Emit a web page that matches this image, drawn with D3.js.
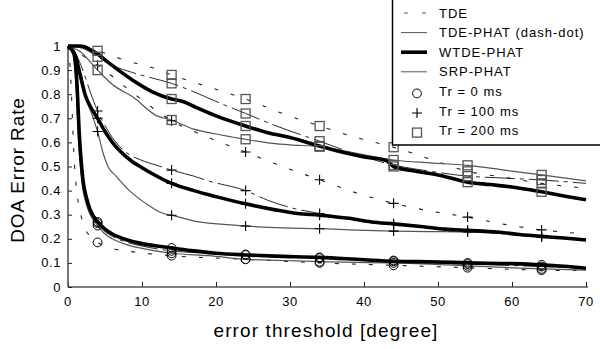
<!DOCTYPE html>
<html>
<head>
<meta charset="utf-8">
<script src="https://cdn.jsdelivr.net/npm/d3@7"></script>
<style>
  body { margin: 0; background: #fff; }
  svg { font-family: "Liberation Sans", Arial, sans-serif; }
</style>
</head>
<body>
<div id="chart"></div>
<script>
// error threshold (degree) vs DOA error rate
const xTicks = [0, 10, 20, 30, 40, 50, 60, 70];
const yTicks = [0, 0.1, 0.2, 0.3, 0.4, 0.5, 0.6, 0.7, 0.8, 0.9, 1];
const markerXs = [4, 14, 24, 34, 44, 54, 64];

// Tr = 0 ms
const tde0 = [[0,1],[0.4,0.85],[0.6,0.7],[0.8,0.55],[1.1,0.42],[1.6,0.32],[2.2,0.25],[3,0.21],[4,0.185],[6,0.16],[9,0.145],[14,0.13],[24,0.115],[34,0.1],[44,0.09],[54,0.08],[64,0.07],[70,0.068]];
const tdephat0 = [[0,1],[0.7,0.97],[1.1,0.85],[1.4,0.65],[1.9,0.45],[2.5,0.35],[3,0.31],[4,0.265],[5,0.23],[6,0.21],[8,0.185],[10,0.17],[14,0.15],[19,0.14],[24,0.135],[29,0.125],[34,0.12],[39,0.115],[44,0.11],[49,0.1],[54,0.095],[59,0.09],[64,0.085],[70,0.08]];
const wtde0 = [[0,1],[0.8,0.97],[1.2,0.85],[1.5,0.65],[2,0.45],[2.5,0.37],[3,0.32],[4,0.27],[5,0.24],[6,0.22],[8,0.195],[10,0.18],[12,0.17],[14,0.162],[17,0.15],[20,0.14],[24,0.133],[28,0.128],[34,0.123],[40,0.113],[44,0.107],[50,0.104],[54,0.1],[60,0.097],[64,0.092],[67,0.086],[70,0.078]];
const srp0 = [[0,1],[0.7,0.96],[1.1,0.82],[1.4,0.62],[1.9,0.43],[2.5,0.34],[3,0.3],[4,0.255],[5,0.22],[6,0.2],[8,0.175],[10,0.16],[14,0.14],[19,0.13],[24,0.115],[29,0.11],[34,0.105],[44,0.1],[54,0.088],[64,0.075],[70,0.07]];

// Tr = 100 ms
const tde100 = [[0,1],[1,0.985],[2,0.96],[4,0.92],[9,0.8],[14,0.69],[19,0.62],[24,0.56],[29,0.5],[34,0.445],[39,0.39],[44,0.347],[49,0.315],[54,0.29],[59,0.26],[64,0.237],[70,0.22]];
const tdephat100 = [[0,1],[1,0.97],[2,0.9],[3,0.81],[4,0.73],[5,0.67],[6,0.62],[7.4,0.57],[10,0.525],[12,0.505],[14,0.485],[17,0.46],[19,0.44],[24,0.4],[27,0.36],[30,0.33],[34,0.305],[39,0.28],[44,0.26],[49,0.245],[54,0.235],[59,0.22],[64,0.21],[70,0.2]];
const wtde100 = [[0,1],[1,0.96],[1.5,0.9],[2.4,0.79],[3,0.75],[4,0.7],[5,0.645],[6,0.6],[7,0.565],[8.7,0.52],[10,0.495],[11.4,0.47],[14,0.43],[17,0.4],[20,0.375],[24,0.345],[28,0.32],[31,0.305],[34,0.298],[38,0.285],[41,0.27],[44,0.262],[48,0.25],[51,0.24],[54,0.235],[58,0.228],[61,0.218],[64,0.21],[67,0.203],[70,0.195]];
const srp100 = [[0,1],[1,0.95],[2,0.82],[3.3,0.71],[4,0.645],[4.7,0.56],[5.4,0.5],[6.5,0.46],[8.3,0.4],[10.5,0.347],[12.8,0.306],[14,0.298],[17.7,0.27],[21,0.26],[24,0.253],[29,0.245],[34,0.242],[39,0.236],[44,0.232],[49,0.23],[54,0.228],[59,0.222],[64,0.208],[70,0.198]];

// Tr = 200 ms
const tde200 = [[0,1],[2,0.995],[4,0.98],[8.3,0.935],[11,0.914],[14,0.88],[19,0.83],[24,0.78],[29,0.72],[34,0.668],[39,0.62],[44,0.58],[49,0.53],[54,0.48],[59,0.455],[64,0.43],[70,0.41]];
const tdephat200 = [[0,1],[2,0.99],[4,0.955],[6,0.92],[8.7,0.89],[11,0.87],[14,0.845],[17,0.81],[20,0.77],[24,0.72],[28,0.67],[34,0.605],[39,0.55],[44,0.506],[49,0.48],[54,0.46],[59,0.452],[64,0.444],[70,0.43]];
const wtde200 = [[0,1],[1.5,1],[2.4,0.995],[3,0.985],[4.2,0.963],[5.3,0.935],[6.5,0.907],[8.7,0.859],[11.4,0.81],[14,0.78],[15.5,0.77],[17.3,0.745],[20,0.71],[24,0.668],[27,0.64],[30,0.62],[34,0.585],[37,0.56],[40,0.54],[43,0.525],[44,0.5],[47,0.48],[50,0.465],[54,0.435],[57,0.425],[60,0.415],[64,0.395],[67,0.378],[70,0.362]];
const srp200 = [[0,1],[1.5,0.98],[4,0.9],[6,0.84],[8.7,0.79],[12,0.71],[14,0.693],[17,0.655],[20,0.635],[24,0.613],[27,0.598],[30,0.59],[34,0.582],[39,0.555],[44,0.527],[49,0.515],[54,0.505],[59,0.485],[64,0.465],[70,0.44]];

const methods = ["TDE", "TDE-PHAT (dash-dot)", "WTDE-PHAT", "SRP-PHAT"];
const reverbLabels = ["Tr = 0 ms", "Tr = 100 ms", "Tr = 200 ms"];

const lineStyles = {
    "TDE": {stroke: "#222", width: 1.1, dash: "4,13"},
    "TDE-PHAT (dash-dot)": {stroke: "#111", width: 0.9, dash: "30,5,4,5"},
    "WTDE-PHAT": {stroke: "#000", width: 3.6, dash: null},
    "SRP-PHAT": {stroke: "#555", width: 1.2, dash: null}
};

const series = [
    {method: "TDE", tr: 0, data: tde0},
    {method: "TDE-PHAT (dash-dot)", tr: 0, data: tdephat0},
    {method: "SRP-PHAT", tr: 0, data: srp0},
    {method: "WTDE-PHAT", tr: 0, data: wtde0},
    {method: "TDE", tr: 1, data: tde100},
    {method: "TDE-PHAT (dash-dot)", tr: 1, data: tdephat100},
    {method: "SRP-PHAT", tr: 1, data: srp100},
    {method: "WTDE-PHAT", tr: 1, data: wtde100},
    {method: "TDE", tr: 2, data: tde200},
    {method: "TDE-PHAT (dash-dot)", tr: 2, data: tdephat200},
    {method: "SRP-PHAT", tr: 2, data: srp200},
    {method: "WTDE-PHAT", tr: 2, data: wtde200}
];

const W = 600, H = 349;
const PLOT = {left: 68, right: 586, top: 46, bottom: 287};

const svg = d3.select("#chart").append("svg")
    .attr("width", W)
    .attr("height", H);

const x = d3.scaleLinear().domain([0, 70]).range([PLOT.left, PLOT.right]);
const y = d3.scaleLinear().domain([0, 1]).range([PLOT.bottom, PLOT.top]);

// axes
const xAxis = svg.append("g")
    .attr("id", "X Axis")
    .attr("transform", "translate(0," + PLOT.bottom + ")")
    .call(d3.axisTop(x).tickValues(xTicks).tickSize(5).tickFormat(""));
const yAxis = svg.append("g")
    .attr("id", "Y Axis")
    .attr("transform", "translate(" + PLOT.left + ",0)")
    .call(d3.axisRight(y).tickValues(yTicks).tickSize(4).tickFormat(""));
[xAxis, yAxis].forEach(a => {
    a.select(".domain").attr("stroke", "#555").attr("stroke-width", 1.6);
    a.selectAll(".tick line").attr("stroke", "#222");
});
xAxis.select(".domain").attr("d", `M${PLOT.left},0H${PLOT.right + 2}`);
yAxis.select(".domain").attr("d", `M0,${PLOT.bottom}V${PLOT.top}`);

svg.append("g").selectAll("text")
    .data(xTicks)
    .enter().append("text")
    .attr("x", d => x(d))
    .attr("y", PLOT.bottom + 14)
    .attr("dy", "0.35em")
    .attr("text-anchor", "middle")
    .attr("font-size", 13)
    .attr("letter-spacing", 0.6)
    .attr("fill", "#000")
    .text(d => d);

svg.append("g").selectAll("text")
    .data(yTicks)
    .enter().append("text")
    .attr("x", PLOT.left - 7)
    .attr("y", d => y(d))
    .attr("dy", "0.35em")
    .attr("text-anchor", "end")
    .attr("font-size", 13)
    .attr("letter-spacing", 0.6)
    .attr("fill", "#000")
    .text(d => d);

svg.append("text")
    .attr("transform", "translate(24,170) rotate(-90)")
    .attr("text-anchor", "middle")
    .attr("font-size", 19)
    .attr("letter-spacing", 0.9)
    .text("DOA Error Rate");

svg.append("text")
    .attr("x", 326)
    .attr("y", 337)
    .attr("text-anchor", "middle")
    .attr("font-size", 19)
    .attr("letter-spacing", 1.1)
    .text("error threshold [degree]");

// curves
const line = d3.line()
    .x(d => x(d[0]))
    .y(d => y(d[1]))
    .curve(d3.curveMonotoneX);

const curves = svg.append("g").attr("id", "curves");
series.forEach((s, i) => {
    const st = lineStyles[s.method];
    curves.append("path")
        .datum(s.data)
        .attr("id", `Line ${i + 1}`)
        .attr("fill", "none")
        .attr("stroke", st.stroke)
        .attr("stroke-width", st.width)
        .attr("stroke-linejoin", "round")
        .style("stroke-dasharray", st.dash)
        .attr("d", line);
});

// markers
function drawMarker(g, tr, cx, cy) {
    if (tr === 0) {
        g.append("circle").attr("cx", cx).attr("cy", cy).attr("r", 4.4)
            .attr("fill", "none").attr("stroke", "#000").attr("stroke-width", 1);
    } else if (tr === 1) {
        g.append("path").attr("d", `M${cx - 5},${cy}H${cx + 5}M${cx},${cy - 5}V${cy + 5}`)
            .attr("stroke", "#000").attr("stroke-width", 1.1);
    } else {
        g.append("rect").attr("x", cx - 4.5).attr("y", cy - 4.5).attr("width", 9).attr("height", 9)
            .attr("fill", "none").attr("stroke", "#555").attr("stroke-width", 1.3);
    }
}

const markers = svg.append("g").attr("id", "markers");
series.forEach(s => {
    s.data.filter(d => markerXs.includes(d[0])).forEach(d => {
        drawMarker(markers, s.tr, x(d[0]), y(d[1]));
    });
});

// legend
const legend = svg.append("g").attr("id", "legend");
legend.append("rect")
    .attr("x", 392.5).attr("y", -1).attr("width", 210).attr("height", 146)
    .attr("fill", "#fff").attr("stroke", "#000").attr("stroke-width", 1.5);

const rowY = i => 13 + i * 19.6;
methods.forEach((m, i) => {
    legend.append("line")
        .attr("x1", m === "TDE" ? 404 : 401).attr("x2", 427)
        .attr("y1", rowY(i)).attr("y2", rowY(i))
        .attr("stroke", m === "WTDE-PHAT" ? "#000" : "#555")
        .attr("stroke-width", m === "WTDE-PHAT" ? 3.6 : 1)
        .style("stroke-dasharray", m === "TDE" ? "4,14" : null);
});
reverbLabels.forEach((r, i) => {
    drawMarker(legend, i, 417, rowY(i + 4) + 2);
});
legend.selectAll("text")
    .data(methods.concat(reverbLabels))
    .enter().append("text")
    .attr("x", 439)
    .attr("y", (d, i) => rowY(i))
    .attr("dy", "0.36em")
    .attr("font-size", 13)
    .attr("letter-spacing", 1)
    .text(d => d);
</script>
</body>
</html>
